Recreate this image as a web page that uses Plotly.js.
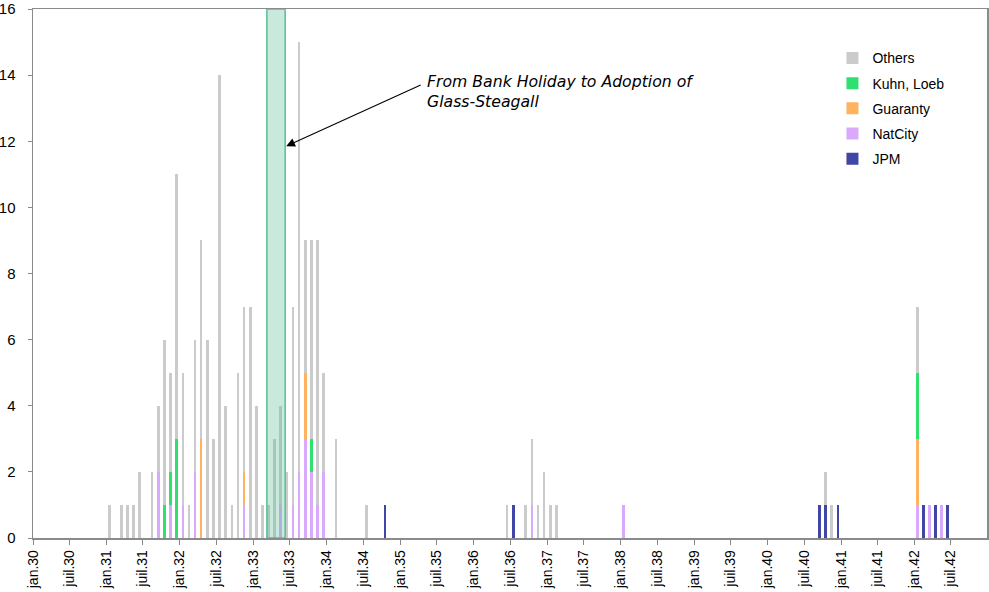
<!DOCTYPE html>
<html>
<head>
<meta charset="utf-8">
<script src="https://cdn.plot.ly/plotly-3.0.1.min.js"></script>
<style>html,body{margin:0;padding:0;background:#fff;}#chart{width:989px;height:592px;}</style>
</head>
<body>
<div id="chart"></div>
<script>
const months = ['1931-01','1931-03','1931-04','1931-05','1931-06','1931-08','1931-09','1931-10','1931-11','1931-12',
  '1932-01','1932-02','1932-03','1932-04','1932-05','1932-06','1932-07','1932-08','1932-09','1932-10','1932-11','1932-12',
  '1933-01','1933-02','1933-03','1933-04','1933-05','1933-06','1933-07','1933-08','1933-09','1933-10','1933-11','1933-12',
  '1934-02','1934-07','1934-10',
  '1936-06','1936-07','1936-09','1936-10','1936-11','1936-12','1937-01','1937-02',
  '1938-01',
  '1940-09','1940-10','1940-11','1940-12',
  '1942-01','1942-02','1942-03','1942-04','1942-05','1942-06'];
const jpm      = [0,0,0,0,0,0,0,0,0,0, 0,0,0,0,0,0,0,0,0,0,0,0, 0,0,0,0,0,0,0,0,0,0,0,0, 0,0,1, 0,1,0,0,0,0,0,0, 0, 1,1,0,1, 0,1,0,1,0,1];
const natcity  = [0,0,0,0,0,0,2,0,1,0, 1,0,2,0,0,0,0,0,0,0,1,0, 0,0,0,0,1,0,1,2,3,2,1,2, 0,0,0, 0,0,0,1,0,0,0,0, 1, 0,0,0,0, 1,0,1,0,1,0];
const guaranty = [0,0,0,0,0,0,0,0,0,0, 0,0,0,3,0,0,0,0,0,0,1,0, 0,0,0,0,0,0,0,0,2,0,0,0, 0,0,0, 0,0,0,0,0,0,0,0, 0, 0,0,0,0, 2,0,0,0,0,0];
const kuhnLoeb = [0,0,0,0,0,0,0,1,1,3, 0,0,0,0,0,0,0,0,0,0,0,0, 0,0,0,0,0,0,0,0,0,1,0,0, 0,0,0, 0,0,0,0,0,0,0,0, 0, 0,0,0,0, 2,0,0,0,0,0];
const others   = [1,1,1,1,2,2,2,5,3,8, 4,1,4,6,6,3,14,4,1,5,5,7, 4,1,1,3,3,2,6,13,4,6,8,3, 3,1,0, 1,0,1,2,1,2,1,1, 0, 0,1,1,0, 2,0,0,0,0,0];

const tickDates = ['1930-01-01','1930-07-01','1931-01-01','1931-07-01','1932-01-01','1932-07-01','1933-01-01','1933-07-01',
  '1934-01-01','1934-07-01','1935-01-01','1935-07-01','1936-01-01','1936-07-01','1937-01-01','1937-07-01',
  '1938-01-01','1938-07-01','1939-01-01','1939-07-01','1940-01-01','1940-07-01','1941-01-01','1941-07-01',
  '1942-01-01','1942-07-01'];
const tickLabels = ['jan.30','juil.30','jan.31','juil.31','jan.32','juil.32','jan.33','juil.33',
  'jan.34','juil.34','jan.35','juil.35','jan.36','juil.36','jan.37','juil.37',
  'jan.38','juil.38','jan.39','juil.39','jan.40','juil.40','jan.41','juil.41',
  'jan.42','juil.42'];
const yTicks = [0, 2, 4, 6, 8, 10, 12, 14, 16];

const periodStart = '1933-03-09';
const periodEnd = '1933-06-08';
const annotationText = 'From Bank Holiday to Adoption of<br>Glass-Steagall';

const DAY = 86400000;
function series(name, vals, color, rank) {
  return {
    type: 'bar', name: name, x: months, y: vals,
    xperiod: 'M1', xperiodalignment: 'middle',
    width: 13 * DAY,
    marker: {color: color, line: {width: 0}},
    legendgroup: name, legendrank: rank,
    hoverinfo: 'x+y+name'
  };
}
const data = [
  series('JPM', jpm, '#3f46a6', 5),
  series('NatCity', natcity, '#d9a9fb', 4),
  series('Guaranty', guaranty, '#ffb25f', 3),
  series('Kuhn, Loeb', kuhnLoeb, '#2fe06f', 2),
  series('Others', others, '#cbcbcb', 1)
];

const layout = {
  width: 989, height: 592,
  margin: {l: 33, r: 2, t: 9, b: 54},
  paper_bgcolor: '#fff', plot_bgcolor: '#fff',
  barmode: 'stack',
  font: {family: 'Liberation Sans, Arial, sans-serif', color: '#000', size: 14},
  showlegend: true,
  legend: {
    x: 0.838, y: 0.937, xanchor: 'left', yanchor: 'top',
    traceorder: 'grouped', tracegroupgap: 4,
    font: {family: 'Liberation Sans, Arial, sans-serif', size: 14, color: '#000'},
    bgcolor: 'rgba(0,0,0,0)', itemwidth: 30
  },
  xaxis: {
    type: 'date',
    range: ['1930-01-01', '1942-12-28'],
    tickmode: 'array', tickvals: tickDates, ticktext: tickLabels,
    tickangle: -90,
    ticks: 'outside', ticklen: 5, tickcolor: '#888', tickwidth: 1,
    tickfont: {family: 'Liberation Sans, Arial, sans-serif', size: 14, color: '#000'},
    showgrid: false, zeroline: false,
    showline: true, linecolor: '#8a8a8a', linewidth: 1.5, mirror: true
  },
  yaxis: {
    range: [0, 16],
    tickmode: 'array', tickvals: yTicks, ticktext: yTicks.map(String),
    ticks: 'outside', ticklen: 4, tickcolor: '#888', tickwidth: 1,
    ticklabelstandoff: 9, ticklabeloverflow: 'allow',
    tickfont: {family: 'Liberation Sans, Arial, sans-serif', size: 15, color: '#000'},
    showgrid: false, zeroline: false,
    showline: true, linecolor: '#8a8a8a', linewidth: 1.5, mirror: true
  },
  shapes: [{
    type: 'rect', xref: 'x', yref: 'y', layer: 'above',
    x0: periodStart, x1: periodEnd, y0: 0, y1: 16,
    fillcolor: 'rgba(98,192,155,0.35)',
    line: {color: '#55c197', width: 1.5}
  }],
  annotations: [
    {
      xref: 'x', yref: 'y', x: '1933-06-13', y: 11.85,
      axref: 'pixel', ayref: 'pixel', ax: 136, ay: -62,
      text: '', showarrow: true, arrowhead: 2, arrowsize: 1.6, arrowwidth: 1.1, arrowcolor: '#000'
    },
    {
      xref: 'paper', yref: 'paper', x: 0.411, y: 0.885,
      xanchor: 'left', yanchor: 'top', align: 'left', showarrow: false,
      text: '<i>' + annotationText + '</i>',
      font: {family: 'DejaVu Sans, Verdana, sans-serif', size: 15.7, color: '#000'}
    }
  ]
};

Plotly.newPlot('chart', data, layout, {displayModeBar: false, staticPlot: true});
</script>
</body>
</html>
